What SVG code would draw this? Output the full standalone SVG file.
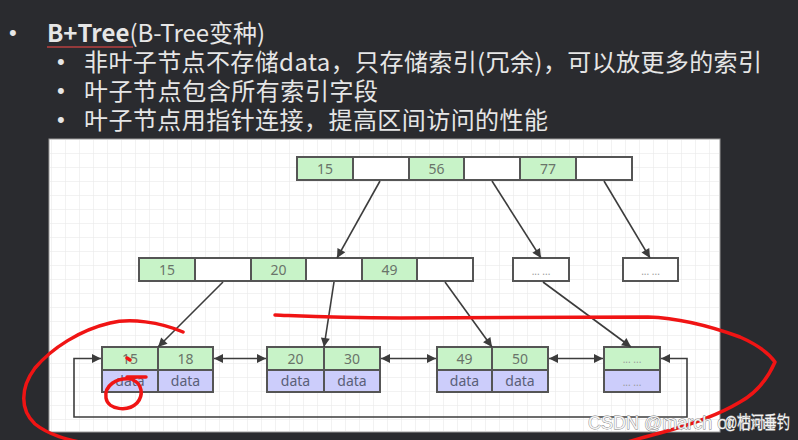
<svg xmlns="http://www.w3.org/2000/svg" width="798" height="440" viewBox="0 0 798 440">
<defs>
<pattern id="grid" patternUnits="userSpaceOnUse" x="51" y="139" width="14" height="14">
<path d="M0,0 H14 M0,0 V14" fill="none" stroke="#e6e6e6" stroke-width="1"/>
</pattern>
<marker id="ah" viewBox="0 0 10 10" refX="10" refY="5" markerWidth="11" markerHeight="9" markerUnits="userSpaceOnUse" orient="auto-start-reverse">
<path d="M0,0 L10,5 L0,10 z" fill="#3c3c3c"/>
</marker>
</defs>
<style>
.hd{font-family:"Noto Sans CJK SC","Noto Sans",sans-serif;font-size:24px;fill:#e6e6e6}
.bl{font-family:"Liberation Sans",sans-serif;font-size:22px;fill:#e6e6e6}
.cell{stroke:#555;stroke-width:2}
.g{fill:#c8f3c8}
.w{fill:#ffffff}
.p{fill:#cccdfb}
.t{font-family:"Noto Sans","Liberation Sans",sans-serif;font-size:14px;fill:#6a746a;text-anchor:middle}
.d{font-family:"Noto Sans","Liberation Sans",sans-serif;font-size:14px;fill:#5a5f78;text-anchor:middle}
.s{font-family:"Noto Sans","Liberation Sans",sans-serif;font-size:10px;fill:#9a9a9a;text-anchor:middle}
.conn{stroke:#3c3c3c;stroke-width:1.6;fill:none}
.red{stroke:#f01414;stroke-width:3.5;fill:none;stroke-linecap:round;stroke-linejoin:round}
.wm{font-family:"Liberation Sans","Noto Sans CJK SC",sans-serif;font-size:18px;fill:#f4f4f4;stroke:#7a7a7a;stroke-width:0.8;paint-order:stroke}
</style>
<rect x="0" y="0" width="798" height="440" fill="#2a2b2f"/>

<g id="heading">
<text class="bl" x="9" y="40">•</text>
<text class="hd" x="47" y="42"><tspan font-weight="bold">B+Tree</tspan>(B-Tree变种)</text>
<line x1="47" y1="47" x2="133" y2="47" stroke="#b84040" stroke-width="1.5"/>
<text class="bl" x="57" y="69">•</text>
<text class="hd" x="84" y="71" textLength="678">非叶子节点不存储data，只存储索引(冗余)，可以放更多的索引</text>
<text class="bl" x="57" y="98">•</text>
<text class="hd" x="84" y="100" textLength="294">叶子节点包含所有索引字段</text>
<text class="bl" x="57" y="127">•</text>
<text class="hd" x="84" y="129" textLength="464">叶子节点用指针连接，提高区间访问的性能</text>
</g>

<g id="panel">
<rect x="49" y="139" width="671" height="293" fill="#ffffff" stroke="#9a9a9a" stroke-width="1"/>
<rect x="50" y="140" width="669" height="291" fill="url(#grid)"/>
</g>

<g id="root">
<rect class="cell g" x="297" y="157" width="56" height="23"/>
<rect class="cell w" x="353" y="157" width="56" height="23"/>
<rect class="cell g" x="409" y="157" width="55" height="23"/>
<rect class="cell w" x="464" y="157" width="56" height="23"/>
<rect class="cell g" x="520" y="157" width="56" height="23"/>
<rect class="cell w" x="576" y="157" width="56" height="23"/>
<text class="t" x="325" y="174">15</text>
<text class="t" x="436.5" y="174">56</text>
<text class="t" x="548" y="174">77</text>
</g>

<g id="inner1">
<rect class="cell g" x="139" y="258" width="56" height="23"/>
<rect class="cell w" x="195" y="258" width="56" height="23"/>
<rect class="cell g" x="251" y="258" width="55" height="23"/>
<rect class="cell w" x="306" y="258" width="56" height="23"/>
<rect class="cell g" x="362" y="258" width="55" height="23"/>
<rect class="cell w" x="417" y="258" width="56" height="23"/>
<text class="t" x="167" y="275">15</text>
<text class="t" x="278.5" y="275">20</text>
<text class="t" x="389.5" y="275">49</text>
</g>

<g id="inner2">
<rect class="cell w" x="513" y="258" width="56" height="23"/>
<text class="s" x="541" y="275">... ...</text>
</g>

<g id="inner3">
<rect class="cell w" x="623" y="258" width="55" height="23"/>
<text class="s" x="650.5" y="275">... ...</text>
</g>

<g id="leaf1">
<rect class="cell g" x="102" y="347" width="56" height="23"/>
<rect class="cell g" x="158" y="347" width="55" height="23"/>
<rect class="cell p" x="102" y="370" width="56" height="22"/>
<rect class="cell p" x="158" y="370" width="55" height="22"/>
<text class="t" x="130" y="364">15</text>
<text class="t" x="185.5" y="364">18</text>
<text class="d" x="130" y="386">data</text>
<text class="d" x="185.5" y="386">data</text>
</g>

<g id="leaf2">
<rect class="cell g" x="267" y="347" width="57" height="23"/>
<rect class="cell g" x="324" y="347" width="56" height="23"/>
<rect class="cell p" x="267" y="370" width="57" height="22"/>
<rect class="cell p" x="324" y="370" width="56" height="22"/>
<text class="t" x="295.5" y="364">20</text>
<text class="t" x="352" y="364">30</text>
<text class="d" x="295.5" y="386">data</text>
<text class="d" x="352" y="386">data</text>
</g>

<g id="leaf3">
<rect class="cell g" x="437" y="347" width="55" height="23"/>
<rect class="cell g" x="492" y="347" width="56" height="23"/>
<rect class="cell p" x="437" y="370" width="55" height="22"/>
<rect class="cell p" x="492" y="370" width="56" height="22"/>
<text class="t" x="464.5" y="364">49</text>
<text class="t" x="520" y="364">50</text>
<text class="d" x="464.5" y="386">data</text>
<text class="d" x="520" y="386">data</text>
</g>

<g id="leaf4">
<rect class="cell g" x="604" y="347" width="56" height="23"/>
<rect class="cell p" x="604" y="370" width="56" height="22"/>
<text class="s" x="632" y="363">... ...</text>
<text class="s" x="632" y="386">... ...</text>
</g>

<g id="connectors">
<line class="conn" x1="380" y1="181" x2="337" y2="258" marker-end="url(#ah)"/>
<line class="conn" x1="492" y1="181" x2="541" y2="258" marker-end="url(#ah)"/>
<line class="conn" x1="604" y1="181" x2="650" y2="258" marker-end="url(#ah)"/>
<line class="conn" x1="223" y1="282" x2="158" y2="347" marker-end="url(#ah)"/>
<line class="conn" x1="334" y1="282" x2="324" y2="347" marker-end="url(#ah)"/>
<line class="conn" x1="445" y1="282" x2="492" y2="347" marker-end="url(#ah)"/>
<line class="conn" x1="543" y1="282" x2="631" y2="347" marker-end="url(#ah)"/>
<line class="conn" x1="214" y1="358.5" x2="266" y2="358.5" marker-start="url(#ah)" marker-end="url(#ah)"/>
<line class="conn" x1="381" y1="358.5" x2="436" y2="358.5" marker-start="url(#ah)" marker-end="url(#ah)"/>
<line class="conn" x1="549" y1="358.5" x2="603" y2="358.5" marker-start="url(#ah)" marker-end="url(#ah)"/>
<path class="conn" d="M661,358.5 H687 V417 H74 V358.5 H101" marker-start="url(#ah)" marker-end="url(#ah)"/>
</g>

<g id="annotations">
<path class="red" d="M183,332 C160,322 130,318 110,323 C80,330 52,348 35,368 C20,388 20,410 35,424 C50,436 70,440 88,444"/>
<path class="red" d="M127,377 L146,377"/>
<path class="red" d="M132,379 C116,377 104,386 106,398 C108,410 128,412 137,403 C144,395 142,384 133,380"/>
<path class="red" d="M127,358 L130,360" stroke-width="2.5"/>
<path class="red" d="M275,315 C300,316 330,318 400,318 L648,317 C680,318 710,326 740,337 C758,345 768,352 775,362 C768,378 758,392 740,402 C720,414 690,425 660,433 C645,437 632,440 622,444"/>
</g>

<g id="watermark">
<text class="wm" x="588" y="429">CSDN @march of Time</text>
<text class="wm" x="724" y="429" textLength="66" lengthAdjust="spacingAndGlyphs">@枯河垂钓</text>
</g>
</svg>
